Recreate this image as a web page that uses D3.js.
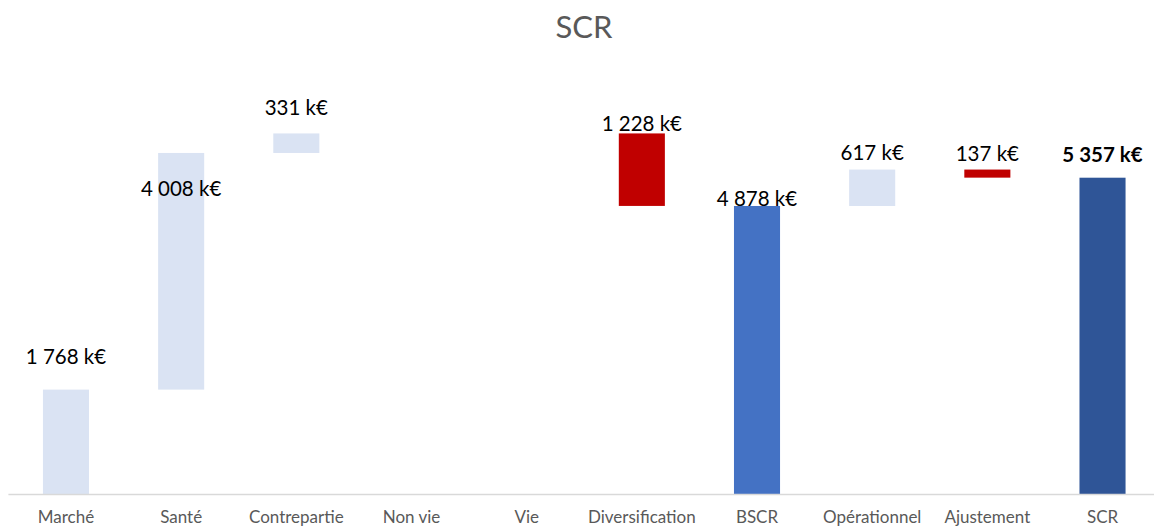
<!DOCTYPE html>
<html>
<head>
<meta charset="utf-8">
<script src="https://cdn.jsdelivr.net/npm/d3@7"></script>
<style>
  body { margin: 0; background: #fff; }
  svg { display: block; font-family: Lato, "Open Sans", sans-serif; }
</style>
</head>
<body>
<svg></svg>
<script>
// waterfall data (k€)
const categories = ['Marché', 'Santé', 'Contrepartie', 'Non vie', 'Vie',
                    'Diversification', 'BSCR', 'Opérationnel', 'Ajustement', 'SCR']
const amounts = [1768, 4008, 331, 0, 0, -1228, 4878, 617, -137, 5357]
// 'step' bars float on the running total, 'total' bars start at zero
const kinds = ['step', 'step', 'step', 'step', 'step', 'step', 'total', 'step', 'step', 'total']
const yTicks = [0, 7000]

// the labels were moved by hand in the original, lift in px above bar top
const labelLift = [33, -36, 26, 0, 0, 10, 7, 17, 16, 23]

document.addEventListener("DOMContentLoaded", function() {
    drawChart(buildBars())
})

function buildBars() {
    let running = 0
    return categories.map((cat, i) => {
        let lo, hi
        if (kinds[i] === 'total') {
            lo = 0
            hi = amounts[i]
            running = amounts[i]
        } else {
            const next = running + amounts[i]
            lo = Math.min(running, next)
            hi = Math.max(running, next)
            running = next
        }
        return { cat: cat, value: amounts[i], kind: kinds[i], lo: lo, hi: hi, i: i }
    })
}

function drawChart(data) {
    let
        svgWidth = 1154,
        svgHeight = 527,
        left = 8.4, right = 1160.1,
        baseY = 494, topY = 80.7

    const svg = d3.select('svg')
        .attr('width', svgWidth)
        .attr('height', svgHeight)

    const x = d3.scaleBand()
        .domain(categories)
        .range([left, right])
        .paddingInner(0.6)
        .paddingOuter(0.3)

    const y = d3.scaleLinear()
        .domain(d3.extent(yTicks))
        .range([baseY, topY])

    const fmt = v => d3.format(',')(Math.abs(v)).replace(/,/g, ' ') + ' k€'

    const fill = d => {
        if (d.kind === 'total') return d.i === data.length - 1 ? '#2F5597' : '#4472C4'
        return d.value < 0 ? '#C00000' : '#DAE3F3'
    }

    // title
    svg.append('text')
        .attr('x', 584)
        .attr('y', 27)
        .attr('dy', '0.35em')
        .attr('text-anchor', 'middle')
        .attr('fill', '#595959')
        .attr('font-size', 31)
        .text('SCR')

    // bars
    svg.append('g')
        .selectAll('rect')
        .data(data.filter(d => d.hi > d.lo))
        .join('rect')
            .attr('x', d => x(d.cat))
            .attr('width', x.bandwidth())
            .attr('y', d => y(d.hi))
            .attr('height', d => y(d.lo) - y(d.hi))
            .attr('fill', fill)

    // x axis
    const axis = svg.append('g')
        .attr('transform', `translate(0, ${baseY})`)
        .call(d3.axisBottom(x).tickSize(0).tickPadding(17))
    axis.select('.domain')
        .attr('stroke', '#D9D9D9')
        .attr('stroke-width', 1.3)
        .attr('d', `M${left},0.5H${svgWidth}`)
    axis.selectAll('text')
        .attr('fill', '#595959')
        .attr('font-size', 17)
        .attr('font-family', 'Lato, "Open Sans", sans-serif')

    // data labels
    svg.append('g')
        .selectAll('text')
        .data(data.filter(d => d.value !== 0))
        .join('text')
            .attr('x', d => x(d.cat) + x.bandwidth() / 2)
            .attr('y', d => y(d.hi) - labelLift[d.i])
            .attr('dy', '0.35em')
            .attr('text-anchor', 'middle')
            .attr('fill', '#000')
            .attr('font-size', 20.5)
            .attr('font-weight', d => d.i === data.length - 1 ? 'bold' : 'normal')
            .text(d => fmt(d.value))
}
</script>
</body>
</html>
